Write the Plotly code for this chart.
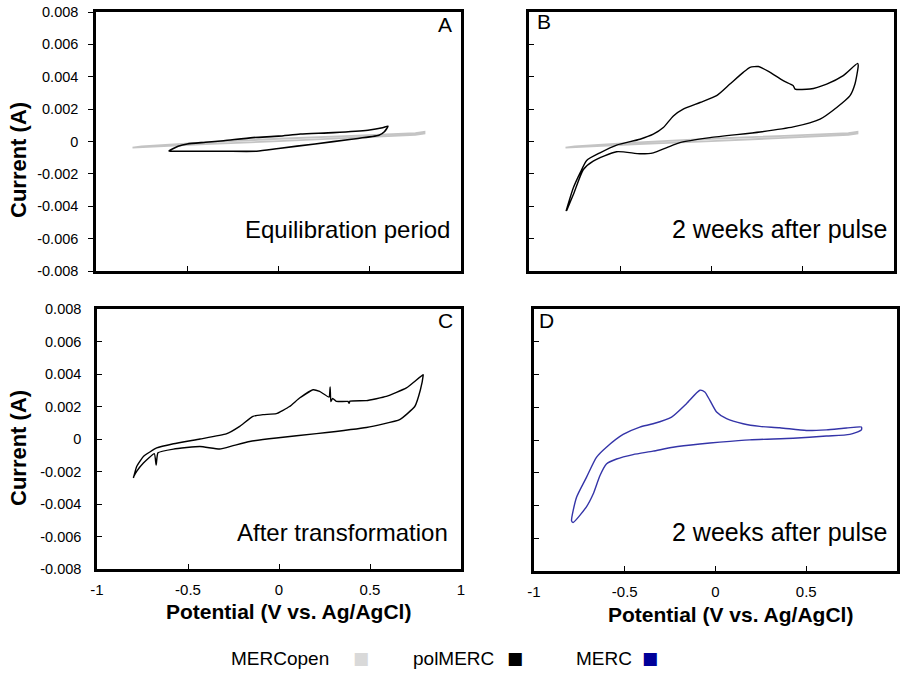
import plotly.graph_objects as go

# ---------------- data ----------------
# MERCopen (grey) cyclic voltammogram, shown in panels A and B
open_v = [-0.8, -0.75, -0.4, 0.0, 0.4, 0.75, 0.8, 0.8, 0.75, 0.4, 0.0, -0.4, -0.75, -0.8, -0.8]
open_i = [-0.00038, -0.00030, -0.00006, 0.00017, 0.00035, 0.00052, 0.00060,
          0.00050, 0.00041, 0.00022, 0.00002, -0.00016, -0.00034, -0.00037, -0.00038]

# polMERC, equilibration period (panel A)
eq_v = [-0.6, -0.55, -0.5, -0.4, -0.3, -0.14, 0.0, 0.12, 0.3, 0.49, 0.57, 0.6,
        0.58, 0.55, 0.4, 0.2, 0.0, -0.12, -0.3, -0.5, -0.59, -0.6]
eq_i = [-0.00058, -0.00030, -0.00015, -0.00005, 0.00005, 0.00024, 0.00033, 0.00046, 0.00055,
        0.00070, 0.00085, 0.00095,
        0.00060, 0.00038, 0.00014, -0.00015, -0.00043, -0.00060, -0.00060, -0.00060, -0.00060, -0.00058]

# polMERC, 2 weeks after pulse (panel B)
pb_v = [-0.797, -0.757, -0.72, -0.684, -0.611, -0.52, -0.392, -0.319, -0.264, -0.209, -0.155,
        -0.063, 0.028, 0.101, 0.174, 0.211, 0.257, 0.321, 0.393, 0.448, 0.458, 0.54, 0.631,
        0.722, 0.801,
        0.804, 0.786, 0.759, 0.686, 0.595, 0.448, 0.266, -0.008, -0.173, -0.245, -0.319,
        -0.392, -0.52, -0.648, -0.702, -0.757, -0.794]
pb_i = [-0.0043, -0.00286, -0.00194, -0.00117, -0.00070, -0.00022, 0.00014, 0.00045, 0.00086,
        0.00158, 0.0020, 0.00241, 0.00283, 0.00355, 0.00427, 0.00458, 0.00463, 0.00427,
        0.00376, 0.00345, 0.00324, 0.00324, 0.00355, 0.00407, 0.00483,
        0.00469, 0.00355, 0.00283, 0.0021, 0.00138, 0.0009, 0.00059, 0.00024, -0.00007,
        -0.00038, -0.0007, -0.00076, -0.00063, -0.00121, -0.00173, -0.00328, -0.00427]

# polMERC, after transformation (panel C)
pc_v = [-0.8, -0.782, -0.745, -0.672, -0.58, -0.434, -0.29, -0.216, -0.143, -0.088, -0.015,
        0.058, 0.113, 0.187, 0.223, 0.275, 0.281, 0.285, 0.295, 0.315, 0.379, 0.385, 0.39,
        0.48, 0.59, 0.70, 0.792,
        0.792, 0.777, 0.746, 0.663, 0.48, 0.206, -0.015, -0.161, -0.252, -0.326, -0.434,
        -0.58, -0.665, -0.675, -0.685, -0.745, -0.782, -0.8]
pc_i = [-0.0024, -0.00169, -0.00107, -0.00055, -0.00029, 0.0, 0.00031, 0.00078, 0.00139,
        0.0015, 0.00156, 0.0020, 0.00252, 0.00303, 0.00293, 0.00258, 0.0032, 0.0023, 0.0025,
        0.00231, 0.00231, 0.0022, 0.00233, 0.00236, 0.00262, 0.00314, 0.00396,
        0.0039, 0.00303, 0.0020, 0.00119, 0.00071, 0.00033, 0.00006, -0.00015, -0.00041,
        -0.00062, -0.00046, -0.00062, -0.00085, -0.0016, -0.0009, -0.00148, -0.00199, -0.00235]

# MERC, 2 weeks after pulse (panel D)
md_v = [-0.793, -0.766, -0.711, -0.656, -0.601, -0.509, -0.417, -0.344, -0.242, -0.160,
        -0.086, -0.059, -0.031, 0.006, 0.061, 0.152, 0.244, 0.354, 0.501, 0.611, 0.722, 0.804,
        0.804, 0.74, 0.611, 0.428, 0.189, 0.024, -0.086, -0.234, -0.344, -0.454, -0.545,
        -0.601, -0.637, -0.674, -0.711, -0.785, -0.793]
md_i = [-0.00494, -0.00351, -0.00228, -0.00106, -0.00044, 0.00034, 0.00079, 0.00099, 0.0014,
        0.00222, 0.00304, 0.00293, 0.00242, 0.00171, 0.0013, 0.00099, 0.00083, 0.00075,
        0.00058, 0.00062, 0.00073, 0.00079,
        0.00062, 0.00034, 0.00024, 0.00011, 0.00001, -0.00013, -0.00024, -0.00044, -0.00068,
        -0.00089, -0.00116, -0.00146, -0.00218, -0.0033, -0.00408, -0.00504, -0.00494]

y_ticks = [-0.008, -0.006, -0.004, -0.002, 0, 0.002, 0.004, 0.006, 0.008]
y_tick_text = ["-0.008", "-0.006", "-0.004", "-0.002", "0", "0.002", "0.004", "0.006", "0.008"]
x_ticks = [-1, -0.5, 0, 0.5, 1]
x_tick_text = ["-1", "-0.5", "0", "0.5", "1"]

panel_letters = ["A", "B", "C", "D"]
panel_notes = ["Equilibration period", "2 weeks after pulse", "After transformation", "2 weeks after pulse"]
legend_names = ["MERCopen", "polMERC", "MERC"]
legend_colors = ["#d9d9d9", "#000000", "#000099"]

GREY = "#c4c4c4"
BLACK = "#000000"
BLUE = "#3434a8"

W, H = 901, 683
FONT = "Liberation Sans, Arial, sans-serif"


def px(x):
    return x / W


def py(y):
    return 1 - y / H


fig = go.Figure()


def line(color, width, sm=0.6):
    return dict(color=color, width=width, shape="spline", smoothing=sm)


fig.add_trace(go.Scatter(x=open_v, y=open_i, mode="lines", line=dict(color=GREY, width=1.8),
                         xaxis="x", yaxis="y", showlegend=False))
fig.add_trace(go.Scatter(x=eq_v, y=eq_i, mode="lines", line=line(BLACK, 1.6),
                         xaxis="x", yaxis="y", showlegend=False))
fig.add_trace(go.Scatter(x=open_v, y=open_i, mode="lines", line=dict(color=GREY, width=1.8),
                         xaxis="x2", yaxis="y2", showlegend=False))
fig.add_trace(go.Scatter(x=pb_v, y=pb_i, mode="lines", line=line(BLACK, 1.4),
                         xaxis="x2", yaxis="y2", showlegend=False))
fig.add_trace(go.Scatter(x=pc_v, y=pc_i, mode="lines", line=line(BLACK, 1.4, 0.4),
                         xaxis="x3", yaxis="y3", showlegend=False))
fig.add_trace(go.Scatter(x=md_v, y=md_i, mode="lines", line=line(BLUE, 1.4),
                         xaxis="x4", yaxis="y4", showlegend=False))

# panel pixel boxes (left, top, right, bottom)
boxes = [(96, 12, 461, 271), (529, 12, 894, 271), (97, 309, 461, 569), (534, 309, 897, 571)]


def xax(i, labels):
    l, t, r, b = boxes[i]
    d = dict(domain=[px(l), px(r)], range=[-1, 1], tickvals=x_ticks, ticktext=x_tick_text,
             showline=True, linecolor="black", linewidth=2.5, mirror=True,
             ticks="inside", ticklen=5, tickcolor="black", tickwidth=1,
             showgrid=False, zeroline=False, showticklabels=labels, automargin=False,
             tickfont=dict(family=FONT, size=15, color="black"),
             anchor="y" if i == 0 else "y%d" % (i + 1))
    if labels:
        d["ticklabelstandoff"] = 5
    return d


def yax(i, labels, tickpos):
    l, t, r, b = boxes[i]
    d = dict(domain=[py(b), py(t)], range=[-0.008, 0.008], tickvals=y_ticks, ticktext=y_tick_text,
             showline=True, linecolor="black", linewidth=2.5, mirror=True,
             ticks=tickpos, ticklen=5, tickcolor="black", tickwidth=1,
             showgrid=False, zeroline=False, showticklabels=labels, automargin=False,
             tickfont=dict(family=FONT, size=14.5, color="black"),
             anchor="x" if i == 0 else "x%d" % (i + 1))
    return d


ya = yax(0, True, "outside")
ya["ticklabelstandoff"] = 7
yc = yax(2, True, "inside")
yc["ticklabelstandoff"] = 10

fig.update_layout(
    width=W, height=H,
    margin=dict(l=0, r=0, t=0, b=0, autoexpand=False),
    paper_bgcolor="white", plot_bgcolor="white",
    font=dict(family=FONT, color="black"),
    xaxis=xax(0, False), yaxis=ya,
    xaxis2=xax(1, False), yaxis2=yax(1, False, "inside"),
    xaxis3=xax(2, True), yaxis3=yc,
    xaxis4=xax(3, True), yaxis4=yax(3, False, "inside"),
    showlegend=False,
)

ann = []
# panel letters
letter_pos = [(445, 24), (544, 22), (445, 320), (546, 320)]
for txt, (x, y) in zip(panel_letters, letter_pos):
    ann.append(dict(text=txt, x=px(x), y=py(y), xref="paper", yref="paper", xanchor="center",
                    yanchor="middle", showarrow=False, font=dict(family=FONT, size=21)))
# panel notes
note_pos = [(452, 229), (889, 229), (450, 532), (889, 532)]
note_size = [24, 25, 24, 25]
for txt, (x, y), s in zip(panel_notes, note_pos, note_size):
    ann.append(dict(text=txt, x=px(x), y=py(y), xref="paper", yref="paper", xanchor="right",
                    yanchor="middle", showarrow=False, font=dict(family=FONT, size=s)))
# axis titles
for y in (160, 448):
    ann.append(dict(text="<b>Current (A)</b>", x=px(18), y=py(y), xref="paper", yref="paper",
                    xanchor="center", yanchor="middle", textangle=-90, showarrow=False,
                    font=dict(family=FONT, size=22)))
for x, y in ((288, 611), (730, 614)):
    ann.append(dict(text="<b>Potential (V vs. Ag/AgCl)</b>", x=px(x), y=py(y), xref="paper",
                    yref="paper", xanchor="center", yanchor="middle", showarrow=False,
                    font=dict(family=FONT, size=21)))
# legend (text followed by coloured square)
legend_text_right = [331, 496, 634]
legend_square_center = [361, 515, 650]
for name, col, xr, xs in zip(legend_names, legend_colors, legend_text_right, legend_square_center):
    ann.append(dict(text=name, x=px(xr), y=py(658), xref="paper", yref="paper", xanchor="right",
                    yanchor="middle", showarrow=False, font=dict(family=FONT, size=19)))
    ann.append(dict(text="■", x=px(xs), y=py(658), xref="paper", yref="paper", xanchor="center",
                    yanchor="middle", showarrow=False, font=dict(family="DejaVu Sans", size=17, color=col)))

fig.update_layout(annotations=ann)
fig.write_html("out.html", config={"displayModeBar": False},
               post_script="document.body.style.margin='0px';")
